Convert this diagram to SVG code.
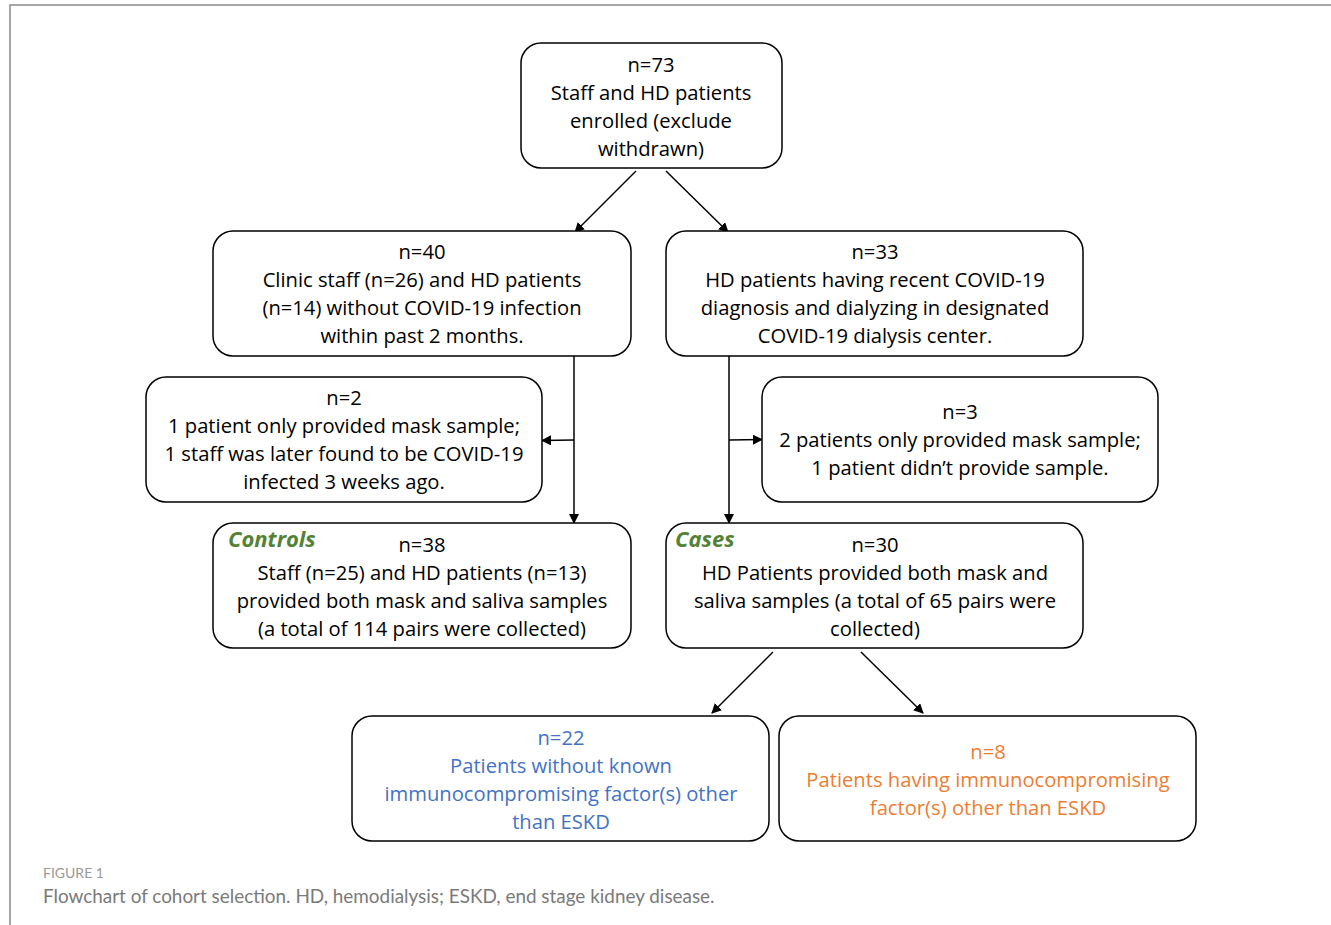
<svg xmlns="http://www.w3.org/2000/svg" width="1331" height="925" viewBox="0 0 1331 925">
<defs>
<marker id="ah" markerWidth="10" markerHeight="10" refX="9" refY="5" orient="auto" markerUnits="userSpaceOnUse">
<path d="M0,0 L10,5 L0,10 z" fill="#000"/>
</marker>
<style>
.box{fill:#fff;stroke:#000;stroke-width:1.5}
.t{font-family:"Open Sans","Liberation Sans",sans-serif;font-size:20.2px;fill:#000;text-anchor:middle}
.lab{font-family:"Open Sans","Liberation Sans",sans-serif;font-size:22px;font-weight:bold;font-style:italic;fill:#548235}
.blue{fill:#4472C4}
.orange{fill:#ED7D31}
.c{stroke:#000;stroke-width:1.5;fill:none;marker-end:url(#ah)}
</style>
</defs>
<rect width="1331" height="925" fill="#fff"/>
<g id="frame">
<path d="M10,925 V5 H1331" fill="none" stroke="#8a8a8a" stroke-width="1.5"/>
</g>
<g id="connectors">
<line class="c" x1="636" y1="171" x2="575" y2="232"/>
<line class="c" x1="666" y1="171" x2="728" y2="232"/>
<line class="c" x1="574" y1="356" x2="574" y2="523"/>
<line class="c" x1="574" y1="440" x2="542" y2="440.5"/>
<line class="c" x1="729" y1="356" x2="729" y2="523"/>
<line class="c" x1="729" y1="440" x2="762" y2="439.5"/>
<line class="c" x1="773" y1="652" x2="712" y2="713"/>
<line class="c" x1="861" y1="652" x2="923" y2="713"/>
</g>
<g id="n73">
<rect class="box" x="521" y="43" width="261" height="125" rx="20"/>
<text class="t" x="651" y="72">n=73</text>
<text class="t" x="651" y="100">Staff and HD patients</text>
<text class="t" x="651" y="128">enrolled (exclude</text>
<text class="t" x="651" y="156">withdrawn)</text>
</g>
<g id="n40">
<rect class="box" x="213" y="231" width="418" height="125" rx="20"/>
<text class="t" x="422" y="259">n=40</text>
<text class="t" x="422" y="287">Clinic staff (n=26) and HD patients</text>
<text class="t" x="422" y="315">(n=14) without COVID-19 infection</text>
<text class="t" x="422" y="343">within past 2 months.</text>
</g>
<g id="n33">
<rect class="box" x="666" y="231" width="417" height="125" rx="20"/>
<text class="t" x="875" y="259">n=33</text>
<text class="t" x="875" y="287">HD patients having recent COVID-19</text>
<text class="t" x="875" y="315">diagnosis and dialyzing in designated</text>
<text class="t" x="875" y="343">COVID-19 dialysis center.</text>
</g>
<g id="n2">
<rect class="box" x="146" y="377" width="396" height="125" rx="20"/>
<text class="t" x="344" y="405">n=2</text>
<text class="t" x="344" y="433">1 patient only provided mask sample;</text>
<text class="t" x="344" y="461">1 staff was later found to be COVID-19</text>
<text class="t" x="344" y="489">infected 3 weeks ago.</text>
</g>
<g id="n3">
<rect class="box" x="762" y="377" width="396" height="125" rx="20"/>
<text class="t" x="960" y="419">n=3</text>
<text class="t" x="960" y="447">2 patients only provided mask sample;</text>
<text class="t" x="960" y="475">1 patient didn’t provide sample.</text>
</g>
<g id="controls">
<rect class="box" x="213" y="523" width="418" height="125" rx="20"/>
<text class="lab" x="228" y="547">Controls</text>
<text class="t" x="422" y="552">n=38</text>
<text class="t" x="422" y="580">Staff (n=25) and HD patients (n=13)</text>
<text class="t" x="422" y="608">provided both mask and saliva samples</text>
<text class="t" x="422" y="636">(a total of 114 pairs were collected)</text>
</g>
<g id="cases">
<rect class="box" x="666" y="523" width="417" height="125" rx="20"/>
<text class="lab" x="675" y="547">Cases</text>
<text class="t" x="875" y="552">n=30</text>
<text class="t" x="875" y="580">HD Patients provided both mask and</text>
<text class="t" x="875" y="608">saliva samples (a total of 65 pairs were</text>
<text class="t" x="875" y="636">collected)</text>
</g>
<g id="n22">
<rect class="box" x="352" y="716" width="417" height="125" rx="20"/>
<text class="t blue" x="561" y="745">n=22</text>
<text class="t blue" x="561" y="773">Patients without known</text>
<text class="t blue" x="561" y="801">immunocompromising factor(s) other</text>
<text class="t blue" x="561" y="829">than ESKD</text>
</g>
<g id="n8">
<rect class="box" x="779" y="716" width="417" height="125" rx="20"/>
<text class="t orange" x="988" y="759">n=8</text>
<text class="t orange" x="988" y="787">Patients having immunocompromising</text>
<text class="t orange" x="988" y="815">factor(s) other than ESKD</text>
</g>
<g id="caption">
<text x="43" y="878" font-family="Lato,'Liberation Sans',sans-serif" font-size="14px" fill="#999">FIGURE 1</text>
<text x="43" y="903" font-family="Lato,'Liberation Sans',sans-serif" font-size="18.9px" fill="#7a7a7a">Flowchart of cohort selection. HD, hemodialysis; ESKD, end stage kidney disease.</text>
</g>
</svg>
